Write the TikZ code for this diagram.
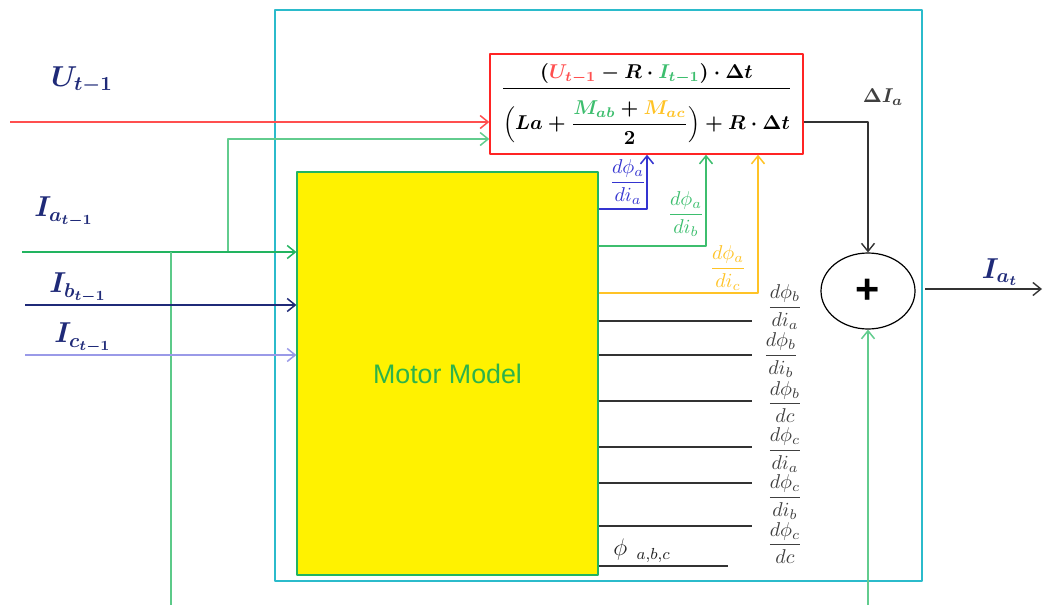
\documentclass[tikz,border=0pt]{standalone}
\usepackage{amsmath,amssymb}
\usepackage{fontspec}
\setsansfont{Liberation Sans}
\usepackage{xcolor}
\usetikzlibrary{arrows.meta,shapes.geometric,positioning}
\definecolor{tealbox}{HTML}{2BBBCB}
\definecolor{redln}{HTML}{FF4F4F}
\definecolor{redbox}{HTML}{FF2424}
\definecolor{iagreen}{HTML}{22B460}
\definecolor{fbgreen}{HTML}{62CC8E}
\definecolor{lblgreen}{HTML}{3DBE6E}
\definecolor{navy}{HTML}{1F2A78}
\definecolor{lavender}{HTML}{9A9AE8}
\definecolor{bluearr}{HTML}{3434D0}
\definecolor{orng}{HTML}{FFC326}
\definecolor{mmgreen}{HTML}{2DB34A}
\tikzset{
  every picture/.style={line join=round, >={Straight Barb[length=4pt,width=6.5pt]}},
  wire/.style={line width=0.7pt, black!80},
  colwire/.style={line width=0.75pt, draw=#1},
  formbox/.style={draw=redbox, line width=0.7pt, fill=white, minimum width=156.5pt, minimum height=50pt, inner sep=0pt, font=\boldmath},
  modelbox/.style={draw=iagreen, line width=0.6pt, fill=yellow, minimum width=150.5pt, minimum height=201.5pt, font=\sffamily\fontsize{13.4}{16}\selectfont, text=mmgreen},
  sumnode/.style={ellipse, draw, line width=0.6pt, minimum width=47pt, minimum height=38pt, inner sep=0pt, font=\sffamily\bfseries\huge},
  inlabel/.style={text=navy, font=\Large\boldmath},
  flabel/.style={inner sep=0pt},
}
\begin{document}
\begin{tikzpicture}[x=0.5pt,y=-0.5pt]
\useasboundingbox (0,0) rectangle (1044,605);
\draw[line width=0.8pt, tealbox] (275,10) rectangle (922,581);

\node[formbox] (form) at (646.5,104) {$\dfrac{(\textcolor{redln}{U_{t-1}} - R\cdot \textcolor{lblgreen}{I_{t-1}})\cdot\Delta t}{\rule{0pt}{4.4ex}\Bigl(La + \dfrac{\textcolor{lblgreen}{M_{ab}} + \textcolor{orng}{M_{ac}}}{2}\Bigr) + R\cdot\Delta t}$};
\node[modelbox] (model) at (447.5,373.5) {Motor Model};
\node[sumnode] (sum) at (868,291) {+};

\coordinate (uin) at (10,122);
\coordinate (iain) at (22,252);
\coordinate (ibin) at (25,305);
\coordinate (icin) at (25,355);
\coordinate (ja) at (228,252);
\coordinate (jb) at (171,252);
\coordinate (bot) at (171,605);
\coordinate (sumin) at (868,605);
\coordinate (outa) at (925,289);
\coordinate (outb) at (1042,289);

\draw[->,colwire=redln] (uin) -- (form.west |- uin);
\draw[->,colwire=fbgreen] (ja) |- (form.west |- 0,139);
\draw[->,colwire=iagreen] (iain) -- (model.west |- iain);
\draw[colwire=fbgreen!90!iagreen] (jb) -- (bot);
\draw[->,colwire=navy] (ibin) -- (model.west |- ibin);
\draw[->,colwire=lavender] (icin) -- (model.west |- icin);

\draw[->,colwire=bluearr] (model.east |- 0,209) -| (form.south -| 647,0);
\draw[->,colwire=lblgreen] (model.east |- 0,246) -| (form.south -| 706,0);
\draw[->,colwire=orng] (model.east |- 0,293) -| (form.south -| 758,0);
\foreach \y in {321,355,401,447,483,526}
  \draw[wire] (model.east |- 0,\y) -- (752,\y);
\draw[wire] (model.east |- 0,566) -- (728,566);

\draw[->,wire] (form.east |- 0,122) -| (sum.north);
\draw[->,colwire=fbgreen] (sumin) -- (sum.south);
\draw[->,wire] (outa) -- (outb);

\node[inlabel] (lu) at (82,80) {$U_{t-1}$};
\node[inlabel] (lia) at (64,212) {$I_{a_{t-1}}$};
\node[inlabel] (lib) at (78,288) {$I_{b_{t-1}}$};
\node[inlabel] (lic) at (83,338) {$I_{c_{t-1}}$};
\node[inlabel] (liat) at (1000,272) {$I_{a_t}$};
\node[text=black!75, font=\boldmath] (ldia) at (883,97) {$\Delta I_a$};

\node[flabel, text=bluearr] (fa) at (628,182) {$\dfrac{d\phi_a}{di_a}$};
\node[flabel, text=lblgreen] (fb) at (686,214) {$\dfrac{d\phi_a}{di_b}$};
\node[flabel, text=orng] (fc) at (728,268) {$\dfrac{d\phi_a}{di_c}$};
\node[flabel, text=black!75] (fba) at (785,307) {$\dfrac{d\phi_b}{di_a}$};
\node[flabel, text=black!75] (fbb) at (781,355) {$\dfrac{d\phi_b}{di_b}$};
\node[flabel, text=black!75] (fbc) at (785,402) {$\dfrac{d\phi_b}{dc}$};
\node[flabel, text=black!75] (fca) at (785,450) {$\dfrac{d\phi_c}{di_a}$};
\node[flabel, text=black!75] (fcb) at (785,497) {$\dfrac{d\phi_c}{di_b}$};
\node[flabel, text=black!75] (fcc) at (785,543) {$\dfrac{d\phi_c}{dc}$};
\node[flabel, text=black!85, font=\large] (fphi) at (642,551) {$\phi_{\;\;a,b,c}$};
\end{tikzpicture}
\end{document}
